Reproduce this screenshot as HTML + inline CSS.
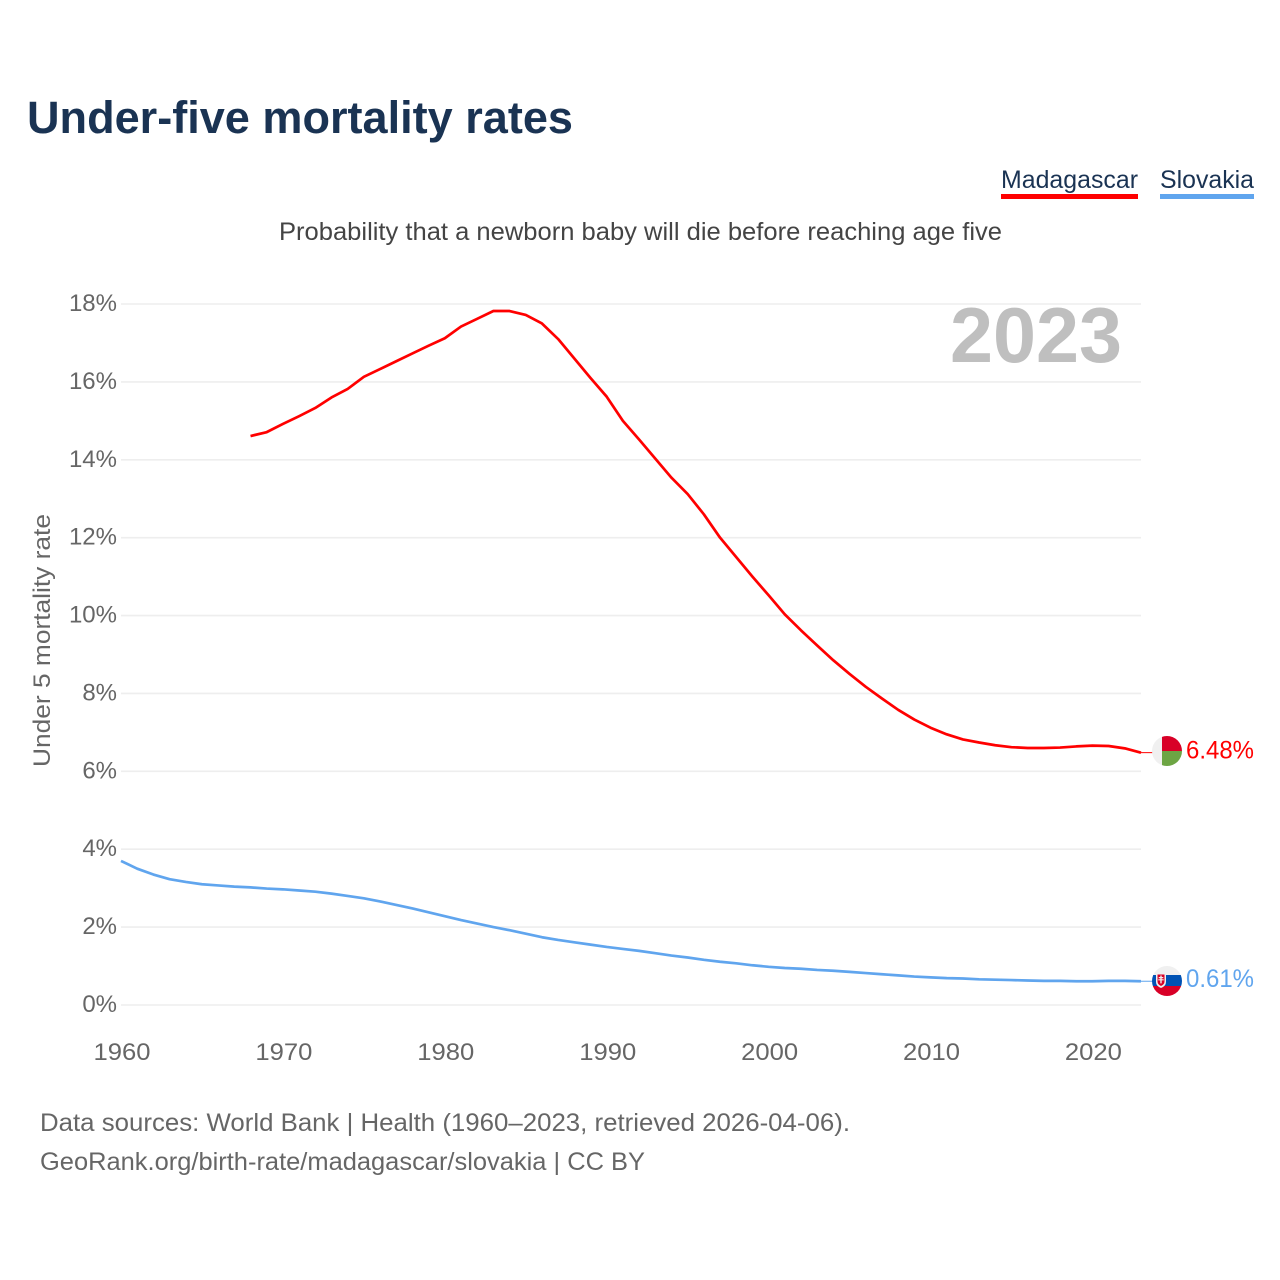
<!DOCTYPE html>
<html lang="en">
<head>
<meta charset="utf-8">
<title>Under-five mortality rates</title>
<style>
html,body{margin:0;padding:0;background:#fff;}
svg{display:block;font-family:"Liberation Sans",sans-serif;}
</style>
</head>
<body>
<svg id="chart" xmlns="http://www.w3.org/2000/svg" width="1280" height="1280" viewBox="0 0 1280 1280">
  <rect x="0" y="0" width="1280" height="1280" fill="#fff"/>
  <text x="27" y="133" font-size="45" font-weight="700" fill="#1a3353" textLength="546" lengthAdjust="spacingAndGlyphs">Under-five mortality rates</text>

  <g>
    <text x="1001" y="188" font-size="25" fill="#1a3353" textLength="137" lengthAdjust="spacingAndGlyphs">Madagascar</text>
    <rect x="1001" y="194" width="137" height="5" fill="#ff0000"/>
  </g>
  <g>
    <text x="1160" y="188" font-size="25" fill="#1a3353" textLength="94" lengthAdjust="spacingAndGlyphs">Slovakia</text>
    <rect x="1160" y="194" width="94" height="5" fill="#60a5ee"/>
  </g>

  <text x="279" y="240" font-size="25" fill="#444" textLength="723" lengthAdjust="spacingAndGlyphs">Probability that a newborn baby will die before reaching age five</text>

  <g id="grid"></g>
  <g id="yticks"></g>
  <g id="xticks"></g>

  <text transform="translate(50,767) rotate(-90)" x="0" y="0" font-size="24" fill="#666" textLength="253" lengthAdjust="spacingAndGlyphs">Under 5 mortality rate</text>

  <text x="950" y="362" font-size="78" font-weight="700" fill="#bfbfbf" textLength="172" lengthAdjust="spacingAndGlyphs">2023</text>

  <g id="series"></g>

  <g>
    <clipPath id="clip-mg"><circle cx="1167" cy="751" r="15"/></clipPath>
    <g clip-path="url(#clip-mg)">
      <rect x="1152" y="736" width="10" height="30" fill="#f0f0f0"/>
      <rect x="1162" y="736" width="20" height="15.5" fill="#d80027"/>
      <rect x="1162" y="751" width="20" height="15.5" fill="#6da544"/>
    </g>
  </g>
  <g>
    <clipPath id="clip-sk"><circle cx="1167" cy="981" r="15"/></clipPath>
    <g clip-path="url(#clip-sk)">
      <rect x="1152" y="966" width="30" height="9.5" fill="#f0f0f0"/>
      <rect x="1152" y="975" width="30" height="11" fill="#0052b4"/>
      <rect x="1152" y="986" width="30" height="10" fill="#d80027"/>
      <path d="M1156 973h10v9q0 4-5 6q-5-2-5-6z" fill="#f0f0f0"/>
      <path d="M1157.500 974.500h7v7q0 3-3.500 4.500q-3.500-1.500-3.500-4.500z" fill="#d80027"/>
      <path d="M1160.300 975.500h1.400v1.500h1.600v1.200h-1.600v1h2v1.200h-2v3h-1.400v-3h-2v-1.200h2v-1h-1.600v-1.200h1.600z" fill="#f0f0f0"/>
    </g>
  </g>

  <g id="endlabels"></g>

  <text x="40" y="1131" font-size="25" fill="#666" textLength="810" lengthAdjust="spacingAndGlyphs">Data sources: World Bank | Health (1960–2023, retrieved 2026-04-06).</text>
  <text x="40" y="1170" font-size="25" fill="#666" textLength="605" lengthAdjust="spacingAndGlyphs">GeoRank.org/birth-rate/madagascar/slovakia | CC BY</text>
</svg>
<script>
var madagascarYears = [1968,1969,1970,1971,1972,1973,1974,1975,1976,1977,1978,1979,1980,1981,1982,1983,1984,1985,1986,1987,1988,1989,1990,1991,1992,1993,1994,1995,1996,1997,1998,1999,2000,2001,2002,2003,2004,2005,2006,2007,2008,2009,2010,2011,2012,2013,2014,2015,2016,2017,2018,2019,2020,2021,2022,2023];
var madagascarValues = [14.61,14.71,14.92,15.12,15.33,15.6,15.82,16.13,16.33,16.53,16.73,16.93,17.12,17.42,17.62,17.82,17.82,17.72,17.5,17.1,16.6,16.1,15.62,15.0,14.52,14.03,13.54,13.12,12.6,12.0,11.5,11.0,10.52,10.03,9.62,9.23,8.85,8.5,8.17,7.87,7.58,7.33,7.12,6.95,6.82,6.74,6.67,6.62,6.6,6.6,6.61,6.64,6.66,6.65,6.59,6.48];
var slovakiaYears = [1960,1961,1962,1963,1964,1965,1966,1967,1968,1969,1970,1971,1972,1973,1974,1975,1976,1977,1978,1979,1980,1981,1982,1983,1984,1985,1986,1987,1988,1989,1990,1991,1992,1993,1994,1995,1996,1997,1998,1999,2000,2001,2002,2003,2004,2005,2006,2007,2008,2009,2010,2011,2012,2013,2014,2015,2016,2017,2018,2019,2020,2021,2022,2023];
var slovakiaValues = [3.7,3.5,3.35,3.23,3.16,3.1,3.07,3.04,3.02,2.99,2.97,2.94,2.91,2.86,2.8,2.74,2.66,2.57,2.48,2.38,2.28,2.18,2.09,2.0,1.92,1.83,1.74,1.67,1.61,1.55,1.49,1.44,1.39,1.33,1.27,1.22,1.16,1.11,1.07,1.02,0.98,0.95,0.93,0.9,0.88,0.85,0.82,0.79,0.76,0.73,0.71,0.69,0.68,0.66,0.65,0.64,0.63,0.62,0.62,0.61,0.61,0.62,0.62,0.61];
var yTickValues = [0,2,4,6,8,10,12,14,16,18];
var yTickLabels = ["0%","2%","4%","6%","8%","10%","12%","14%","16%","18%"];
var xTickValues = [1960,1970,1980,1990,2000,2010,2020];
var xTickLabels = ["1960","1970","1980","1990","2000","2010","2020"];
var endLabels = ["6.48%","0.61%"];

var SVG_NS = 'http://www.w3.org/2000/svg';
var plotLeft = 121, plotRight = 1141, plotBottom = 1005, plotTop = 304;
function xScale(year) { return plotLeft + (year - 1960) * (plotRight - plotLeft) / (2023 - 1960); }
function yScale(value) { return plotBottom - value * (plotBottom - plotTop) / 18; }
function make(tag, parentId) {
  var el = document.createElementNS(SVG_NS, tag);
  document.getElementById(parentId).appendChild(el);
  return el;
}
function pathFor(years, values) {
  var d = '';
  for (var i = 0; i < years.length; i++) {
    d += (i ? 'L' : 'M') + xScale(years[i]).toFixed(2) + ' ' + yScale(values[i]).toFixed(2);
  }
  return d;
}

yTickValues.forEach(function (v, i) {
  var line = make('line', 'grid');
  
  
  line.setAttribute('x1', plotLeft);
  line.setAttribute('x2', plotRight);
  line.setAttribute('y1', yScale(v));
  line.setAttribute('y2', yScale(v));
  line.setAttribute('stroke', '#eeeeee');
  line.setAttribute('stroke-width', '1.6');
  var label = make('text', 'yticks');
  
  
  label.setAttribute('x', 117);
  label.setAttribute('y', yScale(v) + 7);
  label.setAttribute('text-anchor', 'end');
  label.setAttribute('font-size', '24');
  label.setAttribute('fill', '#666');
  label.textContent = yTickLabels[i];
});

xTickValues.forEach(function (v, i) {
  var label = make('text', 'xticks');
  
  
  label.setAttribute('x', xScale(v) + 1);
  label.setAttribute('y', 1060);
  label.setAttribute('text-anchor', 'middle');
  label.setAttribute('font-size', '24');
  label.setAttribute('fill', '#666');
  label.setAttribute('textLength', '57');
  label.setAttribute('lengthAdjust', 'spacingAndGlyphs');
  label.textContent = xTickLabels[i];
});

var madagascarLine = make('path', 'series');


madagascarLine.setAttribute('d', pathFor(madagascarYears, madagascarValues));
madagascarLine.setAttribute('fill', 'none');
madagascarLine.setAttribute('stroke', '#ff0000');
madagascarLine.setAttribute('stroke-width', '2.7');
madagascarLine.setAttribute('stroke-linejoin', 'round');

var slovakiaLine = make('path', 'series');


slovakiaLine.setAttribute('d', pathFor(slovakiaYears, slovakiaValues));
slovakiaLine.setAttribute('fill', 'none');
slovakiaLine.setAttribute('stroke', '#60a5ee');
slovakiaLine.setAttribute('stroke-width', '2.7');
slovakiaLine.setAttribute('stroke-linejoin', 'round');

var madagascarLast = yScale(madagascarValues[madagascarValues.length - 1]);
var slovakiaLast = yScale(slovakiaValues[slovakiaValues.length - 1]);

var madagascarConnector = make('line', 'series');


madagascarConnector.setAttribute('x1', plotRight);
madagascarConnector.setAttribute('x2', 1153);
madagascarConnector.setAttribute('y1', madagascarLast);
madagascarConnector.setAttribute('y2', madagascarLast);
madagascarConnector.setAttribute('stroke', '#ff0000');
madagascarConnector.setAttribute('stroke-width', '1');

var slovakiaConnector = make('line', 'series');


slovakiaConnector.setAttribute('x1', plotRight);
slovakiaConnector.setAttribute('x2', 1153);
slovakiaConnector.setAttribute('y1', slovakiaLast);
slovakiaConnector.setAttribute('y2', slovakiaLast);
slovakiaConnector.setAttribute('stroke', '#60a5ee');
slovakiaConnector.setAttribute('stroke-width', '1');

var madagascarLabel = make('text', 'endlabels');


madagascarLabel.setAttribute('x', 1186);
madagascarLabel.setAttribute('y', madagascarLast + 6);
madagascarLabel.setAttribute('font-size', '25');
madagascarLabel.setAttribute('fill', '#ff0000');
madagascarLabel.setAttribute('textLength', '68');
madagascarLabel.setAttribute('lengthAdjust', 'spacingAndGlyphs');
madagascarLabel.textContent = endLabels[0];

var slovakiaLabel = make('text', 'endlabels');


slovakiaLabel.setAttribute('x', 1186);
slovakiaLabel.setAttribute('y', slovakiaLast + 6);
slovakiaLabel.setAttribute('font-size', '25');
slovakiaLabel.setAttribute('fill', '#60a5ee');
slovakiaLabel.setAttribute('textLength', '68');
slovakiaLabel.setAttribute('lengthAdjust', 'spacingAndGlyphs');
slovakiaLabel.textContent = endLabels[1];
</script>
</body>
</html>
